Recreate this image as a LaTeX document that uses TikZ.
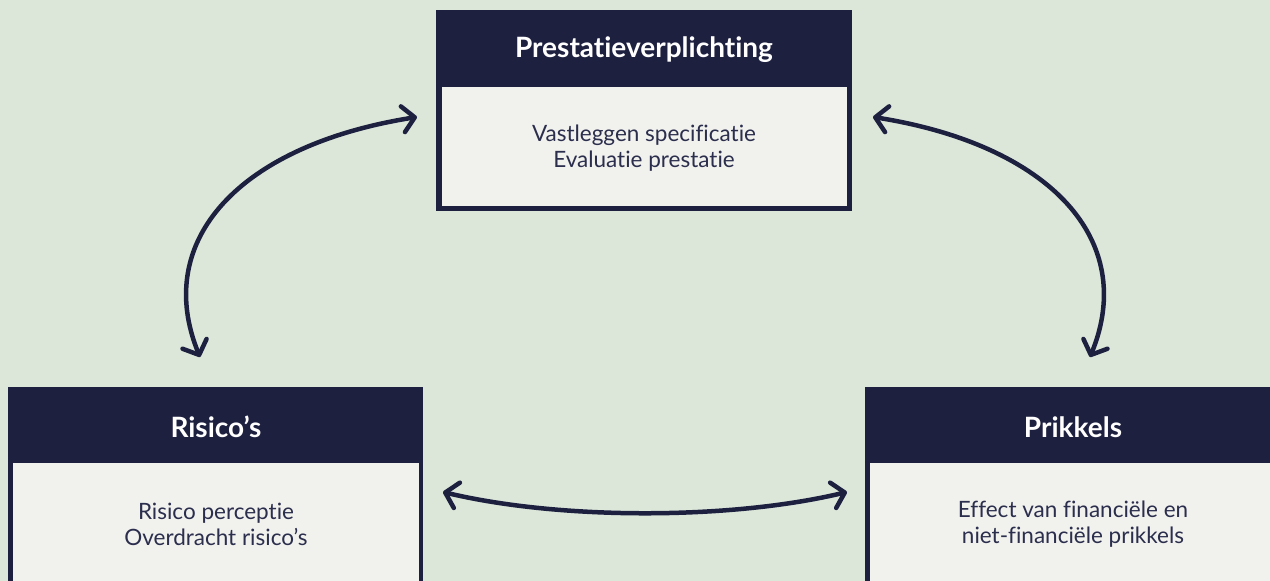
\documentclass[tikz,border=0pt]{standalone}
\usepackage{fontspec}
\setmainfont{Lato}[Ligatures=NoCommon]
\usetikzlibrary{arrows.meta}
\definecolor{navy}{HTML}{1E2040}
\definecolor{paper}{HTML}{DCE7DA}
\definecolor{card}{HTML}{F1F1EE}
\definecolor{ink}{HTML}{2B2E4C}
\tikzset{
  frame/.style={fill=navy, draw=none},
  panel/.style={fill=card, draw=none},
  title/.style={text=white, font=\fontsize{28}{31}\selectfont\bfseries, anchor=center},
  body/.style={text=ink, font=\fontsize{22.5}{26}\selectfont, align=center, anchor=center},
  link/.style={draw=navy, line width=4.5pt, line cap=round,
    {Straight Barb[length=12pt,width=26pt,round]}-{Straight Barb[length=12pt,width=26pt,round]}}
}
\begin{document}
\begin{tikzpicture}[x=1pt,y=-1pt]
  \useasboundingbox (0,0) rectangle (1270,581);
  \fill[paper] (0,0) rectangle (1270,581);

  % top card: Prestatieverplichting
  \path[frame] (436,10) rectangle (852,211);
  \path[panel] (442,87) rectangle (847,206);
  \node[title] (pv) at (644,50) {Prestatieverplichting};
  \node[body] (pvb) at (644,148) {Vastleggen specificatie\\Evaluatie prestatie};

  % lower left card: Risico's
  \path[frame] (8,387) rectangle (423,590);
  \path[panel] (13,463) rectangle (419,590);
  \node[title] (ri) at (216,427) {Risico’s};
  \node[body] (rib) at (216,524) {Risico perceptie\\Overdracht risico’s};

  % lower right card: Prikkels
  \path[frame] (865,387) rectangle (1280,590);
  \path[panel] (870,463) rectangle (1280,590);
  \node[title] (pr) at (1073,427) {Prikkels};
  \node[body] (prb) at (1073,524) {Effect van financiële en\\niet-financiële prikkels};

  % arrow end points
  \coordinate (a1) at (200,357);
  \coordinate (a2) at (417,117);
  \coordinate (b1) at (1090,357);
  \coordinate (b2) at (873,117);
  \coordinate (c1) at (443,492);
  \coordinate (c2) at (847,492);

  % connectors
  \draw[link] (a1) .. controls (152,240) and (240,145) .. (a2);
  \draw[link] (b1) .. controls (1138,240) and (1050,145) .. (b2);
  \draw[link] (c1) .. controls (560,520) and (730,520) .. (c2);
\end{tikzpicture}
\end{document}
